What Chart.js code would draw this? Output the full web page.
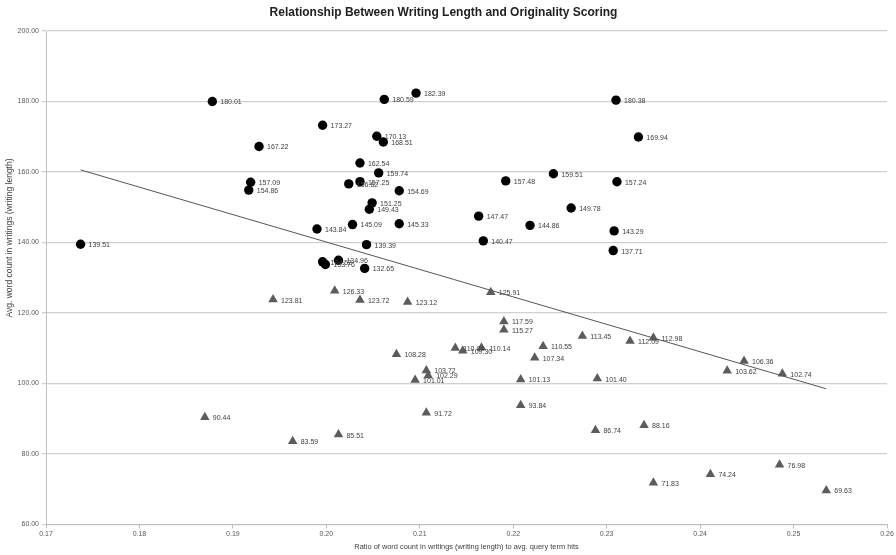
<!DOCTYPE html>
<html>
<head>
<meta charset="utf-8">
<script src="https://cdn.jsdelivr.net/npm/chart.js@4/dist/chart.umd.min.js"></script>
<style>
  html, body { margin: 0; padding: 0; background: #ffffff; }
  #wrap { width: 896px; height: 555px; }
</style>
</head>
<body>
<div id="wrap"><canvas id="c" width="896" height="555"></canvas></div>
<script>
// Titles
const chartTitle = 'Relationship Between Writing Length and Originality Scoring';
const xAxisTitle = 'Ratio of word count in writings (writing length) to avg. query term hits';
const yAxisTitle = 'Avg. word count in writings (writing length)';

// Upper group (round markers): ratio vs. avg. word count
const circleRatio = [0.1737, 0.1878, 0.1996, 0.1928, 0.1919, 0.1917, 0.1990, 0.2062, 0.2096, 0.2054,
  0.2061, 0.2036, 0.2056, 0.2036, 0.2024, 0.2078, 0.2049, 0.2046, 0.2028, 0.2078,
  0.2043, 0.2013, 0.1996, 0.1999, 0.2041, 0.2192, 0.2243, 0.2163, 0.2218, 0.2262,
  0.2168, 0.2310, 0.2334, 0.2311, 0.2308, 0.2307];
const circleWords = [139.51, 180.01, 173.27, 167.22, 157.09, 154.86, 143.84, 180.59, 182.39, 170.13,
  168.51, 162.54, 159.74, 157.25, 156.62, 154.69, 151.25, 149.43, 145.09, 145.33,
  139.39, 134.96, 134.52, 133.76, 132.65, 157.48, 159.51, 147.47, 144.86, 149.78,
  140.47, 180.38, 169.94, 157.24, 143.29, 137.71];

// Lower group (triangle markers)
const triangleRatio = [0.1943, 0.2009, 0.2036, 0.2087, 0.2176, 0.2190, 0.2190, 0.2274, 0.2138, 0.2146,
  0.2166, 0.2232, 0.2223, 0.2075, 0.2107, 0.2109, 0.2095, 0.2208, 0.2290, 0.2208,
  0.2107, 0.2013, 0.1964, 0.1870, 0.2288, 0.2340, 0.2350, 0.2411, 0.2485, 0.2535,
  0.2325, 0.2350, 0.2447, 0.2429, 0.2488];
const triangleWords = [123.81, 126.33, 123.72, 123.12, 125.91, 117.59, 115.27, 113.45, 110.04, 109.30,
  110.14, 110.55, 107.34, 108.28, 103.72, 102.29, 101.01, 101.13, 101.40, 93.84,
  91.72, 85.51, 83.59, 90.44, 86.74, 88.16, 71.83, 74.24, 76.98, 69.63,
  112.09, 112.98, 106.36, 103.62, 102.74];

// Linear trend line end points
const trendRatio = [0.1737, 0.2535];
const trendWords = [160.6, 98.5];

// Axis ticks
const xTicks = [0.17, 0.18, 0.19, 0.20, 0.21, 0.22, 0.23, 0.24, 0.25, 0.26];
const yTicks = [60, 80, 100, 120, 140, 160, 180, 200];

const FONT = '"Liberation Sans", Arial, sans-serif';

function toPoints(xs, ys) {
  return xs.map((x, i) => ({ x: x, y: ys[i] }));
}

// Value labels to the right of each marker
const pointLabels = {
  id: 'pointLabels',
  afterDatasetsDraw(chart) {
    const ctx = chart.ctx;
    ctx.save();
    ctx.font = '7px ' + FONT;
    ctx.fillStyle = '#404040';
    ctx.textBaseline = 'middle';
    ctx.textAlign = 'left';
    chart.data.datasets.forEach((ds, i) => {
      if (!ds.valueLabels) return;
      const meta = chart.getDatasetMeta(i);
      meta.data.forEach((el, j) => {
        ctx.fillText(ds.data[j].y.toFixed(2), el.x + 8, el.y + 1);
      });
    });
    ctx.restore();
  }
};

// Vertical axis title
const yTitle = {
  id: 'yTitle',
  afterDraw(chart) {
    const ctx = chart.ctx;
    ctx.save();
    ctx.font = '8.5px ' + FONT;
    ctx.fillStyle = '#404040';
    ctx.textAlign = 'center';
    ctx.textBaseline = 'middle';
    ctx.translate(10, 238);
    ctx.rotate(-Math.PI / 2);
    ctx.fillText(yAxisTitle, 0, 0);
    ctx.restore();
  }
};

new Chart(document.getElementById('c'), {
  type: 'scatter',
  data: {
    datasets: [
      {
        label: 'Trend',
        type: 'line',
        data: toPoints(trendRatio, trendWords),
        borderColor: '#555555',
        borderWidth: 1,
        pointRadius: 0,
        fill: false,
        order: 1
      },
      {
        label: 'Upper',
        data: toPoints(circleRatio, circleWords),
        pointStyle: 'circle',
        pointRadius: 4.7,
        backgroundColor: '#000000',
        borderColor: '#000000',
        borderWidth: 0,
        valueLabels: true,
        order: 2
      },
      {
        label: 'Lower',
        data: toPoints(triangleRatio, triangleWords),
        pointStyle: 'triangle',
        pointRadius: 5.5,
        backgroundColor: '#5c5c5c',
        borderColor: '#5c5c5c',
        borderWidth: 0,
        valueLabels: true,
        order: 3
      }
    ]
  },
  options: {
    responsive: false,
    animation: false,
    devicePixelRatio: 1,
    layout: { padding: { left: 0, right: 9, top: 0, bottom: 0 } },
    plugins: {
      legend: { display: false },
      tooltip: { enabled: false },
      title: {
        display: true,
        text: chartTitle,
        color: '#222222',
        font: { family: FONT, size: 12, weight: 'bold' },
        padding: { top: 5, bottom: 11.6 }
      }
    },
    scales: {
      x: {
        type: 'linear',
        min: 0.17,
        max: 0.26,
        afterBuildTicks: s => { s.ticks = xTicks.map(v => ({ value: v })); },
        afterFit: s => { s.height = 30.5; },
        ticks: {
          color: '#595959',
          font: { family: FONT, size: 7 },
          padding: 1,
          maxRotation: 0,
          autoSkip: false,
          callback: v => Number(v).toFixed(2)
        },
        grid: {
          drawOnChartArea: false,
          drawTicks: true,
          tickLength: 4,
          color: '#bfbfbf'
        },
        border: { color: '#bfbfbf', width: 1 },
        title: {
          display: true,
          text: xAxisTitle,
          color: '#404040',
          font: { family: FONT, size: 7.4 },
          padding: { top: 0, bottom: 3.6 }
        }
      },
      y: {
        type: 'linear',
        min: 60,
        max: 200,
        afterBuildTicks: s => { s.ticks = yTicks.map(v => ({ value: v })); },
        afterFit: s => { s.width = 46; },
        ticks: {
          color: '#595959',
          font: { family: FONT, size: 7 },
          padding: 3,
          autoSkip: false,
          callback: v => Number(v).toFixed(2)
        },
        grid: {
          color: '#d0d0d0',
          lineWidth: 1.3,
          drawTicks: true,
          tickLength: 4
        },
        border: { color: '#bfbfbf', width: 1 }
      }
    }
  },
  plugins: [pointLabels, yTitle]
});
</script>
</body>
</html>
